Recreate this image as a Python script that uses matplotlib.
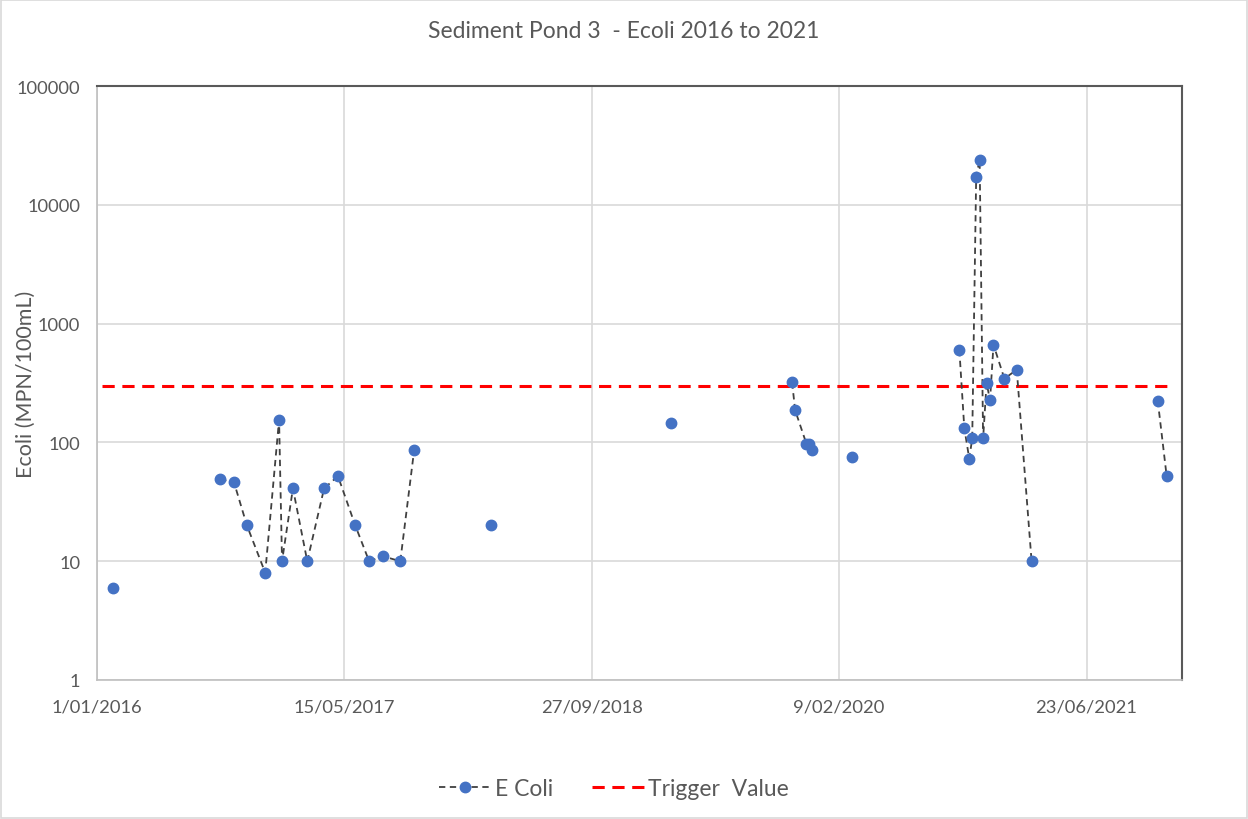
import numpy as np
import pandas as pd
import matplotlib
matplotlib.use("Agg")
import matplotlib.pyplot as plt
import matplotlib.dates as mdates
from matplotlib.ticker import FixedLocator, NullLocator, FuncFormatter
from matplotlib.patches import Rectangle

# E coli samples (None/NaN = missing sample, breaks the line like Excel gaps)
sample_dates = [
    "2016-02-02", None,
    "2016-09-06", "2016-10-04", "2016-10-30", "2016-12-06", "2017-01-03",
    "2017-01-09", "2017-01-31", "2017-03-01", "2017-04-04", "2017-05-02",
    "2017-06-06", "2017-07-04", "2017-08-01", "2017-09-05", "2017-10-03", None,
    "2018-03-08", None,
    "2019-03-07", None,
    "2019-11-06", "2019-11-12", "2019-12-05", "2019-12-11", "2019-12-17", None,
    "2020-03-05", None,
    "2020-10-09", "2020-10-19", "2020-10-29", "2020-11-04", "2020-11-12",
    "2020-11-19", "2020-11-26", "2020-12-03", "2020-12-10", "2020-12-17",
    "2021-01-08", "2021-02-02", "2021-03-04", None,
    "2021-11-14", "2021-12-02",
]
ecoli = [
    6, np.nan,
    49, 46, 20, 8, 155,
    10, 41, 10, 41, 52,
    20, 10, 11, 10, 86, np.nan,
    20, np.nan,
    146, np.nan,
    320, 187, 97, 97, 86, np.nan,
    75, np.nan,
    600, 132, 73, 108, 17300,
    24000, 108, 316, 227, 664,
    344, 409, 10, np.nan,
    224, 52,
]

trigger_dates = ["2016-01-11", "2021-12-02"]
trigger_values = [300, 300]

x_start = pd.Timestamp("2016-01-01")
x_end = pd.Timestamp("2022-01-02")
tick_dates = pd.date_range(x_start, periods=5, freq="500D")
y_ticks = [1, 10, 100, 1000, 10000, 100000]

grey_text = "#595959"
plt.rcParams['font.family'] = ['Lato', 'DejaVu Sans']

fig = plt.figure(figsize=(12.48, 8.2), dpi=100)
ax = fig.add_axes([97 / 1248, 1 - 681 / 820, (1182 - 97) / 1248, (681 - 87) / 820])

# make gaps: dates for None entries get NaT, values NaN
d = pd.to_datetime([s if s else np.nan for s in sample_dates])
d_filled = pd.Series(d).ffill()
ax.plot(d_filled, ecoli, linestyle=(0, (3.5, 2.5)), color="#404040", linewidth=1.3,
        marker="o", markersize=7.5, markerfacecolor="#4472C4",
        markeredgecolor="#4472C4", label="E Coli", zorder=3)
ax.plot(pd.to_datetime(trigger_dates), trigger_values, linestyle=(0, (4, 2.5)),
        color="#FF0000", linewidth=2.2, label="Trigger  Value", zorder=2)

ax.set_yscale("log")
ax.set_ylim(1, 100000)
ax.yaxis.set_major_locator(FixedLocator(y_ticks))
ax.yaxis.set_minor_locator(NullLocator())
ax.yaxis.set_major_formatter(FuncFormatter(lambda v, p: f"{int(round(v))}"))

ax.set_xlim(x_start, x_end)
ax.xaxis.set_major_locator(FixedLocator(mdates.date2num(tick_dates)))
ax.xaxis.set_major_formatter(FuncFormatter(
    lambda v, p: (lambda t: f"{t.day}/{t.month:02d}/{t.year}")(mdates.num2date(v))))

ax.grid(True, color="#d9d9d9", linewidth=1.2)
ax.set_axisbelow(True)
ax.tick_params(length=0, labelsize=13.2, labelcolor=grey_text)
ax.tick_params(axis="y", pad=12)
ax.tick_params(axis="x", pad=13)
for side in ["left", "bottom"]:
    ax.spines[side].set_color("#bfbfbf")
    ax.spines[side].set_linewidth(1.2)
for side in ["top", "right"]:
    ax.spines[side].set_color("#595959")
    ax.spines[side].set_linewidth(1.5)

ax.set_ylabel("Ecoli (MPN/100mL)", fontsize=15.5, color=grey_text)
ax.yaxis.set_label_coords((36 - 97) / 1085, 0.5)
fig.text(0.5, 1 - 32 / 820, "Sediment Pond 3  - Ecoli 2016 to 2021", ha="center", va="center",
         fontsize=16.5, color=grey_text)

fig.legend(loc="center", bbox_to_anchor=(0.5 - 10 / 1248, 1 - 790 / 820), ncol=2, frameon=False,
           fontsize=16.5, labelcolor=grey_text, handlelength=2.3, columnspacing=1.7,
           handletextpad=0.15)

fig.patches.append(Rectangle((0.001, 0.001), 0.998, 0.998, transform=fig.transFigure,
                             fill=False, edgecolor="#d9d9d9", linewidth=1.2))

fig.savefig("out.png", dpi=100)
